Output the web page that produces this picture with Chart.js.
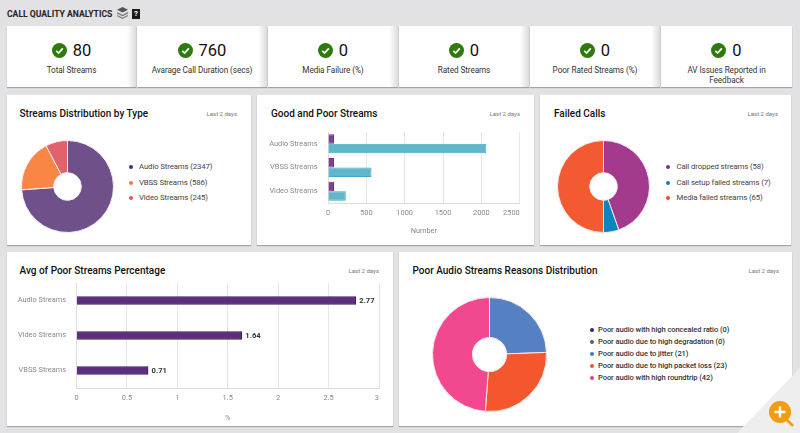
<!DOCTYPE html>
<html>
<head>
<meta charset="utf-8">
<title>Call Quality Analytics</title>
<script src="https://cdn.jsdelivr.net/npm/chart.js@4"></script>
<style>
html, body { margin: 0; padding: 0; }
body { width: 800px; height: 433px; overflow: hidden; position: relative; background: #e2e2e4; font-family: Roboto, sans-serif; }
.card { position: absolute; background: #fff; box-shadow: 0 1px 1px rgba(0,0,0,.28); }
.kpi { top: 26px; height: 61px; text-align: center; }
.kpi::after { content: ""; position: absolute; right: 0; top: 0; bottom: 0; width: 9px; background: linear-gradient(to right, #fff, #dcdcdc); }
.kpi.noEdge::after { display: none; }
.kpiRow { position: absolute; left: 0; right: 0; top: 14px; height: 20px; display: flex; align-items: center; justify-content: center; font-size: 16.5px; color: #111; }
.kpiRow svg { margin-right: 6px; }
.kpiLabel { position: absolute; left: 12px; right: 12px; top: 40px; font-size: 8.2px; letter-spacing: -0.08px; line-height: 9.5px; color: #333; }
.title { position: absolute; font-size: 10px; font-weight: 500; color: #111; line-height: 14px; white-space: nowrap; }
.range { position: absolute; font-size: 6px; color: #777; line-height: 10px; white-space: nowrap; }
.legendItem { position: absolute; font-size: 7.8px; letter-spacing: -0.12px; color: #444; line-height: 12px; white-space: nowrap; }
.dot { position: absolute; width: 4px; height: 4px; border-radius: 50%; }
canvas { position: absolute; }
#header { position: absolute; left: 7px; top: 8px; font-size: 8.6px; font-weight: 700; color: #222; line-height: 12px; white-space: nowrap; }
#corner { position: absolute; left: 737px; top: 368px; width: 63px; height: 65px; background: #eeeeee; clip-path: polygon(100% 0, 100% 100%, 0 100%); }
</style>
</head>
<body>
<div id="header">CALL QUALITY ANALYTICS</div>
<svg style="position:absolute;left:117px;top:7px" width="11" height="12" viewBox="0 0 12 13">
  <path d="M6 0 L12 3 L6 6 L0 3Z" fill="#555"/><path d="M0 5.5 L6 8.5 L12 5.5 L12 7 L6 10 L0 7Z" fill="#777"/><path d="M0 8.5 L6 11.5 L12 8.5 L12 10 L6 13 L0 10Z" fill="#888"/>
</svg>
<div style="position:absolute;left:132px;top:9px;width:8px;height:10px;background:#1a1a1a;color:#fff;font-size:8px;font-weight:700;line-height:10px;text-align:center">?</div>

<div id="corner"></div>
<svg id="zoomIcon" style="position:absolute;left:768px;top:400px" width="32" height="33" viewBox="0 0 32 33">
  <line x1="19" y1="20" x2="25" y2="26" stroke="#f39c12" stroke-width="2.5"/>
  <circle cx="12" cy="12" r="11" fill="#f39c12"/>
  <path d="M12 6.5 V17.5 M6.5 12 H17.5" stroke="#fff" stroke-width="2.4"/>
</svg>

<script>
// KPI strip
const kpiValues = ["80", "760", "0", "0", "0", "0"];
const kpiLabels = ["Total Streams", "Avarage Call Duration (secs)", "Media Failure (%)", "Rated Streams", "Poor Rated Streams (%)", "AV Issues Reported in Feedback"];

// Streams Distribution by Type
const typeLabels = ["Audio Streams (2347)", "VBSS Streams (586)", "Video Streams (245)"];
const typeValues = [2347, 586, 245];

// Good and Poor Streams
const streamCategories = ["Audio Streams", "VBSS Streams", "Video Streams"];
const poorCounts = [78, 78, 78];
const goodCounts = [2065, 567, 232];
const countTicks = [0, 500, 1000, 1500, 2000, 2500];

// Failed Calls
const failedLabels = ["Call dropped streams (58)", "Call setup failed streams (7)", "Media failed streams (65)"];
const failedValues = [58, 7, 65];

// Avg of Poor Streams Percentage
const avgCategories = ["Audio Streams", "Video Streams", "VBSS Streams"];
const avgValues = [2.77, 1.64, 0.71];

// Poor Audio Streams Reasons Distribution
const reasonLabels = ["Poor audio with high concealed ratio (0)", "Poor audio due to high degradation (0)", "Poor audio due to jitter (21)", "Poor audio due to high packet loss (23)", "Poor audio with high roundtrip (42)"];
const reasonValues = [0, 0, 21, 23, 42];

const tickColor = "#8a8a8a";
const gridColor = "#e6e6e6";
const tickFont = { family: "Roboto", size: 7.4 };

function el(tag, cls, css, text) {
    let node = document.createElement(tag);
    node.className = cls;
    node.style.cssText = css;
    if (text) node.textContent = text;
    document.body.appendChild(node);
    return node;
}

function addCanvas(x, y, w, h) {
    let c = document.createElement("canvas");
    c.width = w;
    c.height = h;
    c.style.cssText = "left:" + x + "px;top:" + y + "px;width:" + w + "px;height:" + h + "px";
    document.body.appendChild(c);
    return c;
}

// KPI cards
const kpiX = [7, 137, 268, 399, 530, 661];
const kpiW = [129, 130, 130, 130, 130, 131];
kpiValues.forEach(function(v, i) {
    let card = el("div", "card kpi" + (i === kpiValues.length - 1 ? " noEdge" : ""), "left:" + kpiX[i] + "px;width:" + kpiW[i] + "px");
    card.innerHTML = '<div class="kpiRow"><svg width="15" height="15" viewBox="0 0 15 15"><circle cx="7.5" cy="7.5" r="7.5" fill="#2f7a0c"/><path d="M4.3 7.8 L6.6 10 L10.8 5.4" fill="none" stroke="#fff" stroke-width="1.7"/></svg>' + v + '</div><div class="kpiLabel">' + kpiLabels[i] + '</div>';
});

// chart cards
el("div", "card", "left:7px;top:95px;width:244px;height:150px");
el("div", "card", "left:257px;top:95px;width:277px;height:150px");
el("div", "card", "left:540px;top:95px;width:251px;height:150px");
el("div", "card", "left:7px;top:252px;width:386px;height:174px");
el("div", "card", "left:399px;top:252px;width:393px;height:174px");
document.body.appendChild(document.getElementById("corner"));
document.body.appendChild(document.getElementById("zoomIcon"));

function heading(text, x, y, right) {
    el("div", "title", "left:" + x + "px;top:" + (y - 7) + "px", text);
    el("div", "range", "right:" + (800 - right) + "px;top:" + (y - 5) + "px", "Last 2 days");
}
heading("Streams Distribution by Type", 19.5, 113.5, 237);
heading("Good and Poor Streams", 271, 113.5, 520);
heading("Failed Calls", 554, 113.5, 778);
heading("Avg of Poor Streams Percentage", 19.5, 271, 379);
heading("Poor Audio Streams Reasons Distribution", 412.5, 271, 779);

function legend(labels, colors, dotX, textX, ys, css) {
    labels.forEach(function(label, i) {
        el("div", "dot", "left:" + (dotX - 2) + "px;top:" + (ys[i] - 2) + "px;background:" + colors[i]);
        el("div", "legendItem", "left:" + textX + "px;top:" + (ys[i] - 6) + "px;" + (css || ""), label);
    });
}

function pie(cx, cy, r, values, labels, fills, borders) {
    let size = 2 * r + 1;
    new Chart(addCanvas(cx - size / 2, cy - size / 2, size, size), {
        type: "doughnut",
        data: {
            labels: labels,
            datasets: [{
                data: values,
                backgroundColor: fills,
                borderColor: borders,
                borderWidth: 1
            }]
        },
        options: {
            responsive: false,
            animation: false,
            cutout: "30%",
            plugins: { legend: { display: false }, tooltip: { enabled: false } }
        }
    });
}

const typeFills = ["#70508a", "#f98645", "#e2626c"];
pie(67, 186, 46, typeValues, typeLabels, typeFills, "#f4eef4");
legend(typeLabels, ["#4f2c7b", "#fb7a3a", "#e8505b"], 130.5, 139, [167, 182.5, 198]);

const failedFills = ["#a33a8e", "#0a85bd", "#f45a32"];
pie(603, 186, 46, failedValues, failedLabels, failedFills, "#f7e9ee");
legend(failedLabels, ["#90278a", "#0a7fbd", "#f4481e"], 668, 676.5, [167, 182.5, 198]);

const reasonFills = ["#3b2a4d", "#6b4c7a", "#5581c4", "#f4572e", "#f2488f"];
pie(489, 354.5, 57, reasonValues, reasonLabels, reasonFills, "#fbe6ea");
legend(reasonLabels, ["#3b2a4d", "#6b4c7a", "#3b78c4", "#f4511e", "#ee3d8b"], 591.5, 598, [330, 342, 354, 366, 378], "color:#333;font-size:7.6px;letter-spacing:-0.1px;font-weight:500");

// last x tick label is kept inside the plot, like the original
const lastTickInside = {
    id: "lastTickInside",
    beforeDraw: function(chart) {
        let items = chart.scales.x.getLabelItems();
        items[items.length - 1].options.textAlign = "right";
    }
};

// bold value at the end of each bar
const barValues = {
    id: "barValues",
    afterDatasetsDraw: function(chart) {
        let ctx = chart.ctx;
        ctx.save();
        ctx.font = "700 7.6px Roboto";
        ctx.fillStyle = "#333";
        ctx.textBaseline = "middle";
        chart.getDatasetMeta(0).data.forEach(function(bar, i) {
            ctx.fillText(avgValues[i], bar.x + 3.5, bar.y + 1);
        });
        ctx.restore();
    }
};

function barOptions(yWidth, xHeight, top, right, maxX, step, titleText, titlePad) {
    return {
        indexAxis: "y",
        responsive: false,
        animation: false,
        layout: { padding: { top: top, right: right, left: 0, bottom: 0 } },
        plugins: { legend: { display: false }, tooltip: { enabled: false } },
        scales: {
            x: {
                min: 0,
                max: maxX,
                grid: { color: gridColor, drawTicks: false },
                border: { color: "#dddddd" },
                ticks: {
                    stepSize: step,
                    color: tickColor,
                    font: tickFont,
                    padding: 6,
                    maxRotation: 0,
                    callback: function(value) { return String(value); }
                },
                title: { display: true, text: titleText, color: tickColor, font: tickFont, padding: { top: 0, bottom: titlePad } },
                afterFit: function(scale) { scale.height = xHeight; }
            },
            y: {
                grid: { display: false, drawTicks: false },
                border: { color: "#dddddd" },
                ticks: { color: tickColor, font: tickFont, padding: 10.5 },
                afterFit: function(scale) {
                    // tick padding would otherwise push the plot top down
                    scale.width = yWidth;
                    scale.paddingTop = 0;
                    scale.paddingBottom = 0;
                }
            }
        }
    };
}

// Good and Poor Streams
new Chart(addCanvas(258, 120, 276, 120), {
    type: "bar",
    data: {
        labels: streamCategories,
        datasets: [
            { data: poorCounts, backgroundColor: "#7d4191", borderColor: "#65307f", borderWidth: 1 },
            { data: goodCounts, backgroundColor: "#60b6ca", borderColor: "#45a8bd", borderWidth: 1 }
        ]
    },
    options: Object.assign(barOptions(70, 37, 12, 12, countTicks[countTicks.length - 1], countTicks[1], "Number", 4), {
        datasets: { bar: { categoryPercentage: 0.8, barPercentage: 1 } }
    }),
    plugins: [lastTickInside]
});

// Avg of Poor Streams Percentage
new Chart(addCanvas(8, 276, 384, 150), {
    type: "bar",
    data: {
        labels: avgCategories,
        datasets: [{ data: avgValues, backgroundColor: "#5e2e7e", borderColor: "#3f1d63", borderWidth: 1 }]
    },
    options: Object.assign(barOptions(68.5, 38, 7, 13, 3, 0.5, "%", 3), {
        datasets: { bar: { barThickness: 8 } }
    }),
    plugins: [lastTickInside, barValues]
});
</script>
</body>
</html>
